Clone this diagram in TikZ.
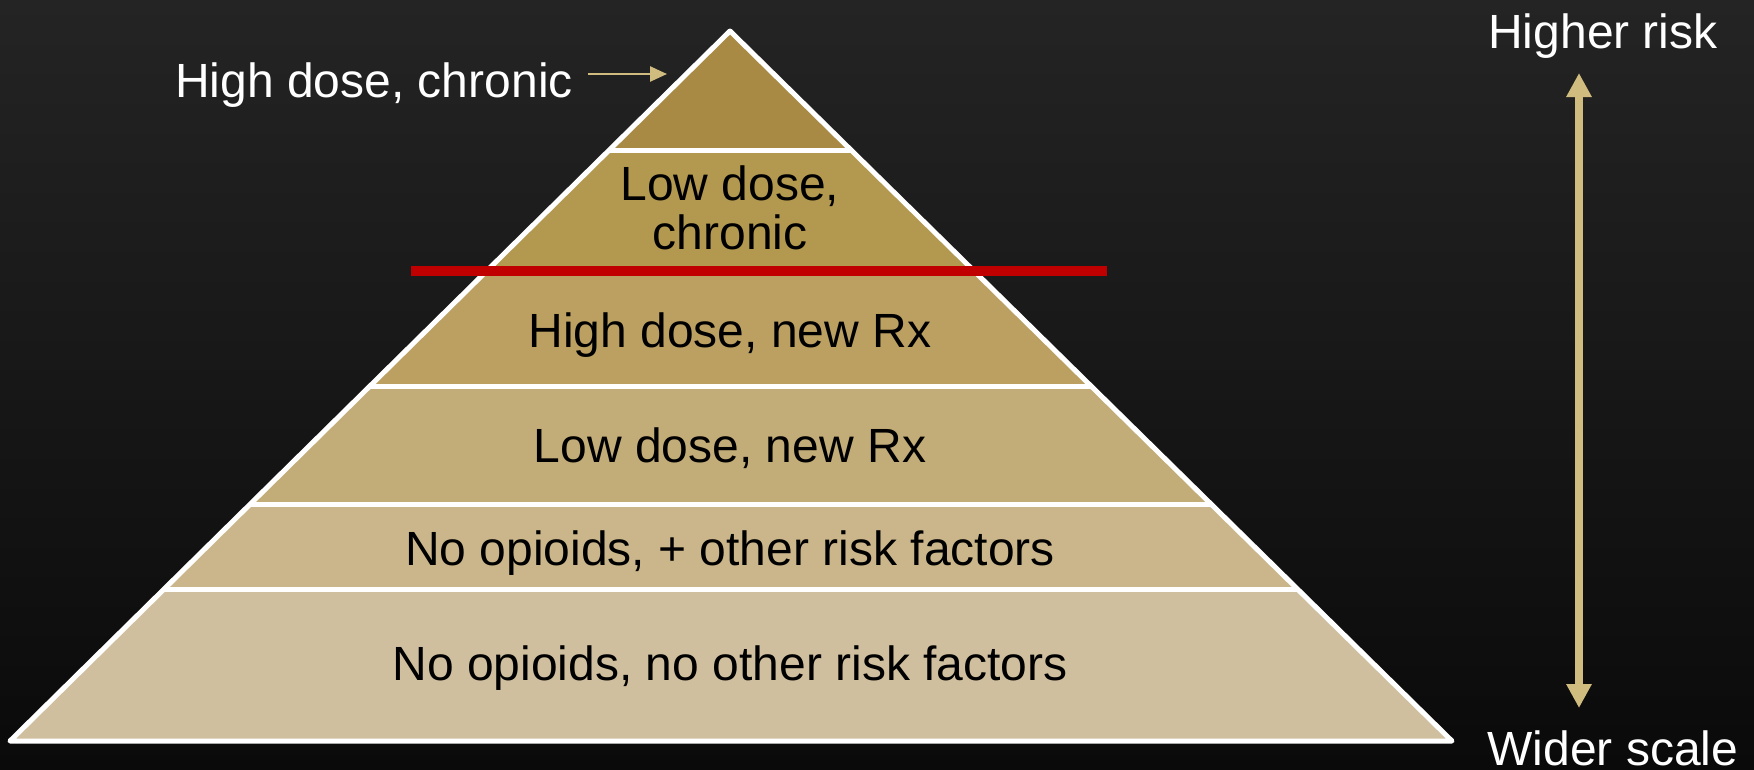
\documentclass[tikz,border=0pt]{standalone}
\usepackage{fontspec}
\setmainfont{Liberation Sans}
\usetikzlibrary{arrows.meta}
\definecolor{bgtop}{HTML}{242424}
\definecolor{bgbot}{HTML}{0A0A0A}
\definecolor{layA}{HTML}{A88A44}
\definecolor{layB}{HTML}{B39850}
\definecolor{layC}{HTML}{BBA062}
\definecolor{layD}{HTML}{C2AC78}
\definecolor{layE}{HTML}{CAB68A}
\definecolor{layF}{HTML}{D0BF9F}
\definecolor{gold}{HTML}{D1BC80}
\definecolor{redbar}{HTML}{C00000}
\tikzset{
  lbl/.style={inner sep=0pt, anchor=base, font=\fontsize{48}{48}\selectfont},
  side/.style={lbl, text=white},
  layer/.style={lbl, text=black},
  edge/.style={draw=white, line width=5pt},
  scalearrow/.style={draw=gold, line width=8pt, {Triangle[width=24pt,length=24pt]}-{Triangle[width=24pt,length=24pt]}},
  pointer/.style={draw=gold, line width=2.5pt, -{Triangle[width=15pt,length=17pt]}},
  cutline/.style={draw=redbar, line width=10pt}
}
\begin{document}
\begin{tikzpicture}[x=1pt,y=-1pt]
\useasboundingbox (0,0) rectangle (1754,769);
\shade[top color=bgtop, bottom color=bgbot] (0,0) rectangle (1754,769);
% pyramid
\coordinate (apex) at (730,31);
\coordinate (bl) at (10,741);
\coordinate (br) at (1452,741);
\begin{scope}
  \clip (apex) -- (br) -- (bl) -- cycle;
  \fill[layA] (0,0) rectangle (1754,150);
  \fill[layB] (0,150) rectangle (1754,270);
  \fill[layC] (0,270) rectangle (1754,386);
  \fill[layD] (0,386) rectangle (1754,504);
  \fill[layE] (0,504) rectangle (1754,589);
  \fill[layF] (0,589) rectangle (1754,769);
  \draw[edge] (0,150) -- (1754,150);
  \draw[edge] (0,386) -- (1754,386);
  \draw[edge] (0,504) -- (1754,504);
  \draw[edge] (0,589) -- (1754,589);
\end{scope}
\draw[edge, line join=round] (apex) -- (br) -- (bl) -- cycle;
% red cut line
\coordinate (cutL) at (411,271);
\coordinate (cutR) at (1107,271);
\draw[cutline] (cutL) -- (cutR);
% layer texts
\node[layer] (t2a) at (730,200) {Low dose,};
\node[layer] (t2b) at (730,249) {chronic};
\node[layer] (t3) at (730,347) {High dose, new Rx};
\node[layer] (t4) at (730,462) {Low dose, new Rx};
\node[layer] (t5) at (730,565) {No opioids, + other risk factors};
\node[layer] (t6) at (730,680) {No opioids, no other risk factors};
% side labels
\node[side] (hdc) at (374,97) {High dose, chronic};
\coordinate (hdctip) at (667,74);
\draw[pointer] ([xshift=15pt]hdc.east |- hdctip) -- (hdctip);
\node[side] (hi) at (1603,48) {Higher risk};
\node[side] (wide) at (1613,765) {Wider scale};
\coordinate (arTop) at (1579,73);
\coordinate (arBot) at (1579,708);
\draw[scalearrow] (arTop) -- (arBot);
\end{tikzpicture}
\end{document}
